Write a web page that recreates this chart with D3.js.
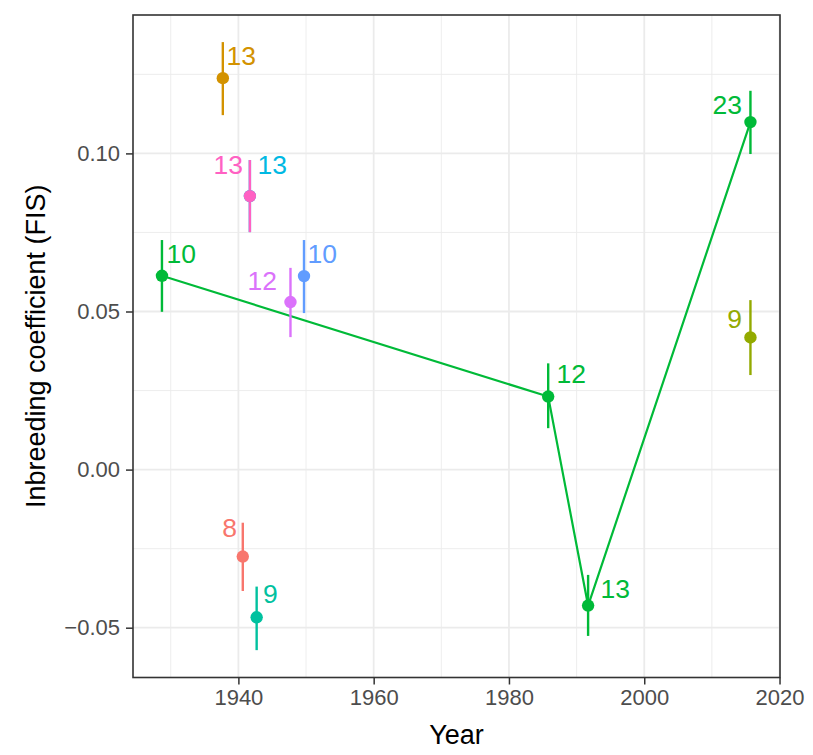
<!DOCTYPE html>
<html>
<head>
<meta charset="utf-8">
<script src="https://cdn.jsdelivr.net/npm/d3@7"></script>
<style>
  body { margin: 0; background: #fff; }
  text { font-family: "Liberation Sans", Arial, sans-serif; }
</style>
</head>
<body>
<div id="chart"></div>
<script>
/* DATA */
// ggplot default hue palette, one colour per population
const groupColors = ["#F8766D", "#D39200", "#93AA00", "#00BA38", "#00C19F", "#00B9E3", "#619CFF", "#DB72FB", "#FF61C3"];
const pointGroup = [0, 1, 2, 3, 3, 3, 3, 4, 5, 6, 7, 8];
const years = [1940.65, 1937.7, 2015.7, 1928.7, 1985.8, 1991.7, 2015.7, 1942.7, 1941.7, 1949.7, 1947.7, 1941.7];
const fis = [-0.0275, 0.1238, 0.0418, 0.0613, 0.0231, -0.0430, 0.1099, -0.0467, 0.0865, 0.0612, 0.0530, 0.0865];
const fisLow = [-0.0384, 0.1121, 0.0299, 0.0499, 0.0131, -0.0526, 0.0998, -0.0571, 0.0751, 0.0495, 0.0419, 0.0751];
const fisHigh = [-0.0168, 0.1352, 0.0536, 0.0726, 0.0336, -0.0333, 0.1198, -0.0370, 0.0979, 0.0726, 0.0638, 0.0979];
const sampleN = [8, 13, 9, 10, 12, 13, 23, 9, 13, 10, 12, 13];
// where the repelled sample-size labels sit (year, FIS of the text baseline)
const labelSide = ["left", "right", "left", "right", "right", "right", "left", "right", "right", "right", "left", "left"];
const labelYear = [1939.79, 1938.24, 2014.45, 1929.37, 1987.03, 1993.53, 2014.45, 1943.64, 1942.82, 1950.22, 1945.71, 1940.68];
const labelFis = [-0.0213, 0.1280, 0.0448, 0.0653, 0.0274, -0.0406, 0.1124, -0.0422, 0.0935, 0.0653, 0.0568, 0.0935];
const lineGroup = 3; // the green series is joined by a line

const xTicks = [1940, 1960, 1980, 2000, 2020];
const xMinor = [1930, 1950, 1970, 1990, 2010];
const yTicks = [-0.05, 0, 0.05, 0.10];
const yMinor = [-0.025, 0.025, 0.075, 0.125];

const data = years.map((y, i) => ({
  year: y, fis: fis[i], lo: fisLow[i], hi: fisHigh[i],
  n: sampleN[i], group: pointGroup[i],
  side: labelSide[i], lx: labelYear[i], ly: labelFis[i]
}));

/* LAYOUT */
const width = 813, height = 755;
const margin = { top: 15, right: 33, bottom: 77.5, left: 133 };

const svg = d3.select("#chart").append("svg")
  .attr("width", width)
  .attr("height", height);

const xScale = d3.scaleLinear()
  .domain([1924.42, 2020.07])
  .range([margin.left, width - margin.right]);

const yScale = d3.scaleLinear()
  .domain([-0.06575, 0.14377])
  .range([height - margin.bottom, margin.top]);

const x0 = margin.left, x1 = width - margin.right;
const y0 = margin.top, y1 = height - margin.bottom;

// grid
const grid = svg.append("g");
grid.selectAll(".xminor").data(xMinor).join("line")
  .attr("class", "xminor")
  .attr("x1", d => xScale(d)).attr("x2", d => xScale(d))
  .attr("y1", y0).attr("y2", y1)
  .attr("stroke", "#EBEBEB").attr("stroke-width", 0.9);
grid.selectAll(".yminor").data(yMinor).join("line")
  .attr("class", "yminor")
  .attr("y1", d => yScale(d)).attr("y2", d => yScale(d))
  .attr("x1", x0).attr("x2", x1)
  .attr("stroke", "#EBEBEB").attr("stroke-width", 0.9);
grid.selectAll(".xmajor").data(xTicks).join("line")
  .attr("class", "xmajor")
  .attr("x1", d => xScale(d)).attr("x2", d => xScale(d))
  .attr("y1", y0).attr("y2", y1)
  .attr("stroke", "#EBEBEB").attr("stroke-width", 1.8);
grid.selectAll(".ymajor").data(yTicks).join("line")
  .attr("class", "ymajor")
  .attr("y1", d => yScale(d)).attr("y2", d => yScale(d))
  .attr("x1", x0).attr("x2", x1)
  .attr("stroke", "#EBEBEB").attr("stroke-width", 1.8);

// axes
const xAxis = d3.axisBottom(xScale).tickValues(xTicks).tickFormat(d3.format("d")).tickSize(7).tickPadding(5);
const yAxis = d3.axisLeft(yScale).tickValues(yTicks).tickFormat(d => d3.format(".2f")(d).replace("-", "\u2212")).tickSize(7).tickPadding(6);

const xAxisGroup = svg.append("g")
  .attr("transform", `translate(0, ${y1})`)
  .call(xAxis);
const yAxisGroup = svg.append("g")
  .attr("transform", `translate(${x0}, 0)`)
  .call(yAxis);

[xAxisGroup, yAxisGroup].forEach(g => {
  g.attr("font-size", null).attr("font-family", null);
  g.select(".domain").remove();
  g.selectAll(".tick line").attr("stroke", "#333333").attr("stroke-width", 1.5);
  g.selectAll(".tick text").attr("fill", "#4D4D4D").style("font-size", "22px");
});

// green connecting line
const lineGen = d3.line()
  .x(d => xScale(d.year))
  .y(d => yScale(d.fis));

svg.append("path")
  .datum(data.filter(d => d.group === lineGroup).sort((a, b) => a.year - b.year))
  .attr("fill", "none")
  .attr("stroke", groupColors[lineGroup])
  .attr("stroke-width", 2.2)
  .attr("d", lineGen);

// error bars and points, in group order
const sorted = data.slice().sort((a, b) => a.group - b.group);

svg.selectAll(".err").data(sorted).join("line")
  .attr("class", "err")
  .attr("x1", d => xScale(d.year)).attr("x2", d => xScale(d.year))
  .attr("y1", d => yScale(d.lo)).attr("y2", d => yScale(d.hi))
  .attr("stroke", d => groupColors[d.group])
  .attr("stroke-width", 2.4);

svg.selectAll(".dot").data(sorted).join("circle")
  .attr("class", "dot")
  .attr("cx", d => xScale(d.year))
  .attr("cy", d => yScale(d.fis))
  .attr("r", 6.2)
  .attr("fill", d => groupColors[d.group]);

// sample size labels
svg.selectAll(".lab").data(sorted).join("text")
  .attr("class", "lab")
  .attr("x", d => xScale(d.lx))
  .attr("y", d => yScale(d.ly))
  .attr("text-anchor", d => d.side === "right" ? "start" : "end")
  .style("font-size", "26.5px")
  .attr("fill", d => groupColors[d.group])
  .text(d => d.n);

// panel border
svg.append("rect")
  .attr("x", x0).attr("y", y0)
  .attr("width", x1 - x0).attr("height", y1 - y0)
  .attr("fill", "none")
  .attr("stroke", "#333333")
  .attr("stroke-width", 1.6);

// axis titles
svg.append("text")
  .attr("x", (x0 + x1) / 2)
  .attr("y", 744)
  .attr("text-anchor", "middle")
  .style("font-size", "27px")
  .attr("fill", "#000")
  .text("Year");

svg.append("text")
  .attr("transform", `translate(45, ${(y0 + y1) / 2}) rotate(-90)`)
  .attr("text-anchor", "middle")
  .style("font-size", "27px")
  .attr("fill", "#000")
  .text("Inbreeding coefficient (FIS)");
</script>
</body>
</html>
